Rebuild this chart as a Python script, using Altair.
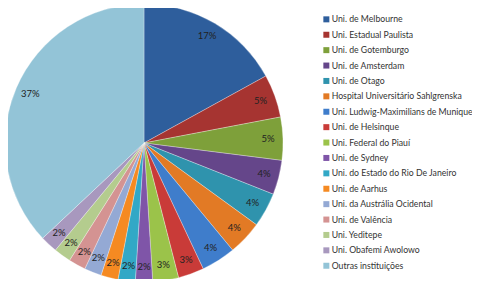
import altair as alt
import pandas as pd

institutions = [
    "Uni. de Melbourne", "Uni. Estadual Paulista", "Uni. de Gotemburgo",
    "Uni. de Amsterdam", "Uni. de Otago", "Hospital Universitário Sahlgrenska",
    "Uni. Ludwig-Maximilians de Munique", "Uni. de Helsinque", "Uni. Federal do Piauí",
    "Uni. de Sydney", "Uni. do Estado do Rio De Janeiro", "Uni. de Aarhus",
    "Uni. da Austrália Ocidental", "Uni. de Valência", "Uni. Yeditepe",
    "Uni. Obafemi Awolowo", "Outras instituições",
]
shares = [17, 5, 5, 4, 4, 4, 4, 3, 3, 2, 2, 2, 2, 2, 2, 2, 37]
colors = [
    "#2E5E9C", "#A63431", "#7EA03A", "#65468A", "#2F93AD", "#E27A25",
    "#3F7DCB", "#C93B38", "#9BC34A", "#7F55A8", "#32A8C6", "#F58A22",
    "#94A9D4", "#D49392", "#B4CC8E", "#A898BE", "#93C4D7",
]

df = pd.DataFrame({
    "inst": institutions,
    "share": shares,
    "order": list(range(len(shares))),
    "label": [f"{v}%" for v in shares],
})

cx, cy = 136, 135

base = alt.Chart(df).encode(
    theta=alt.Theta("share:Q", stack=True),
    order=alt.Order("order:Q"),
)

arcs = base.mark_arc(outerRadius=139, stroke="white", strokeWidth=0.3).encode(
    x=alt.value(cx), y=alt.value(cy),
    color=alt.Color(
        "inst:N",
        scale=alt.Scale(domain=institutions, range=colors),
        sort=institutions,
        legend=alt.Legend(
            title=None, orient="none", legendX=314, legendY=7,
            symbolType="square", symbolSize=36, symbolStrokeWidth=0,
            labelFont="Lato", labelFontSize=8.7, labelColor="#333333",
            labelLimit=0, rowPadding=5.4, labelOffset=1,
        ),
    ),
)

texts = base.mark_text(radius=124, font="Lato", fontSize=9.5, color="#222222").encode(
    x=alt.value(cx), y=alt.value(cy),
    text="label:N",
)

chart = (arcs + texts).properties(
    width=464, height=271, padding=0,
    autosize=alt.AutoSizeParams(type="none"),
).configure_view(stroke=None)

chart.save("out.html", embed_options={"renderer": "svg", "actions": False})
